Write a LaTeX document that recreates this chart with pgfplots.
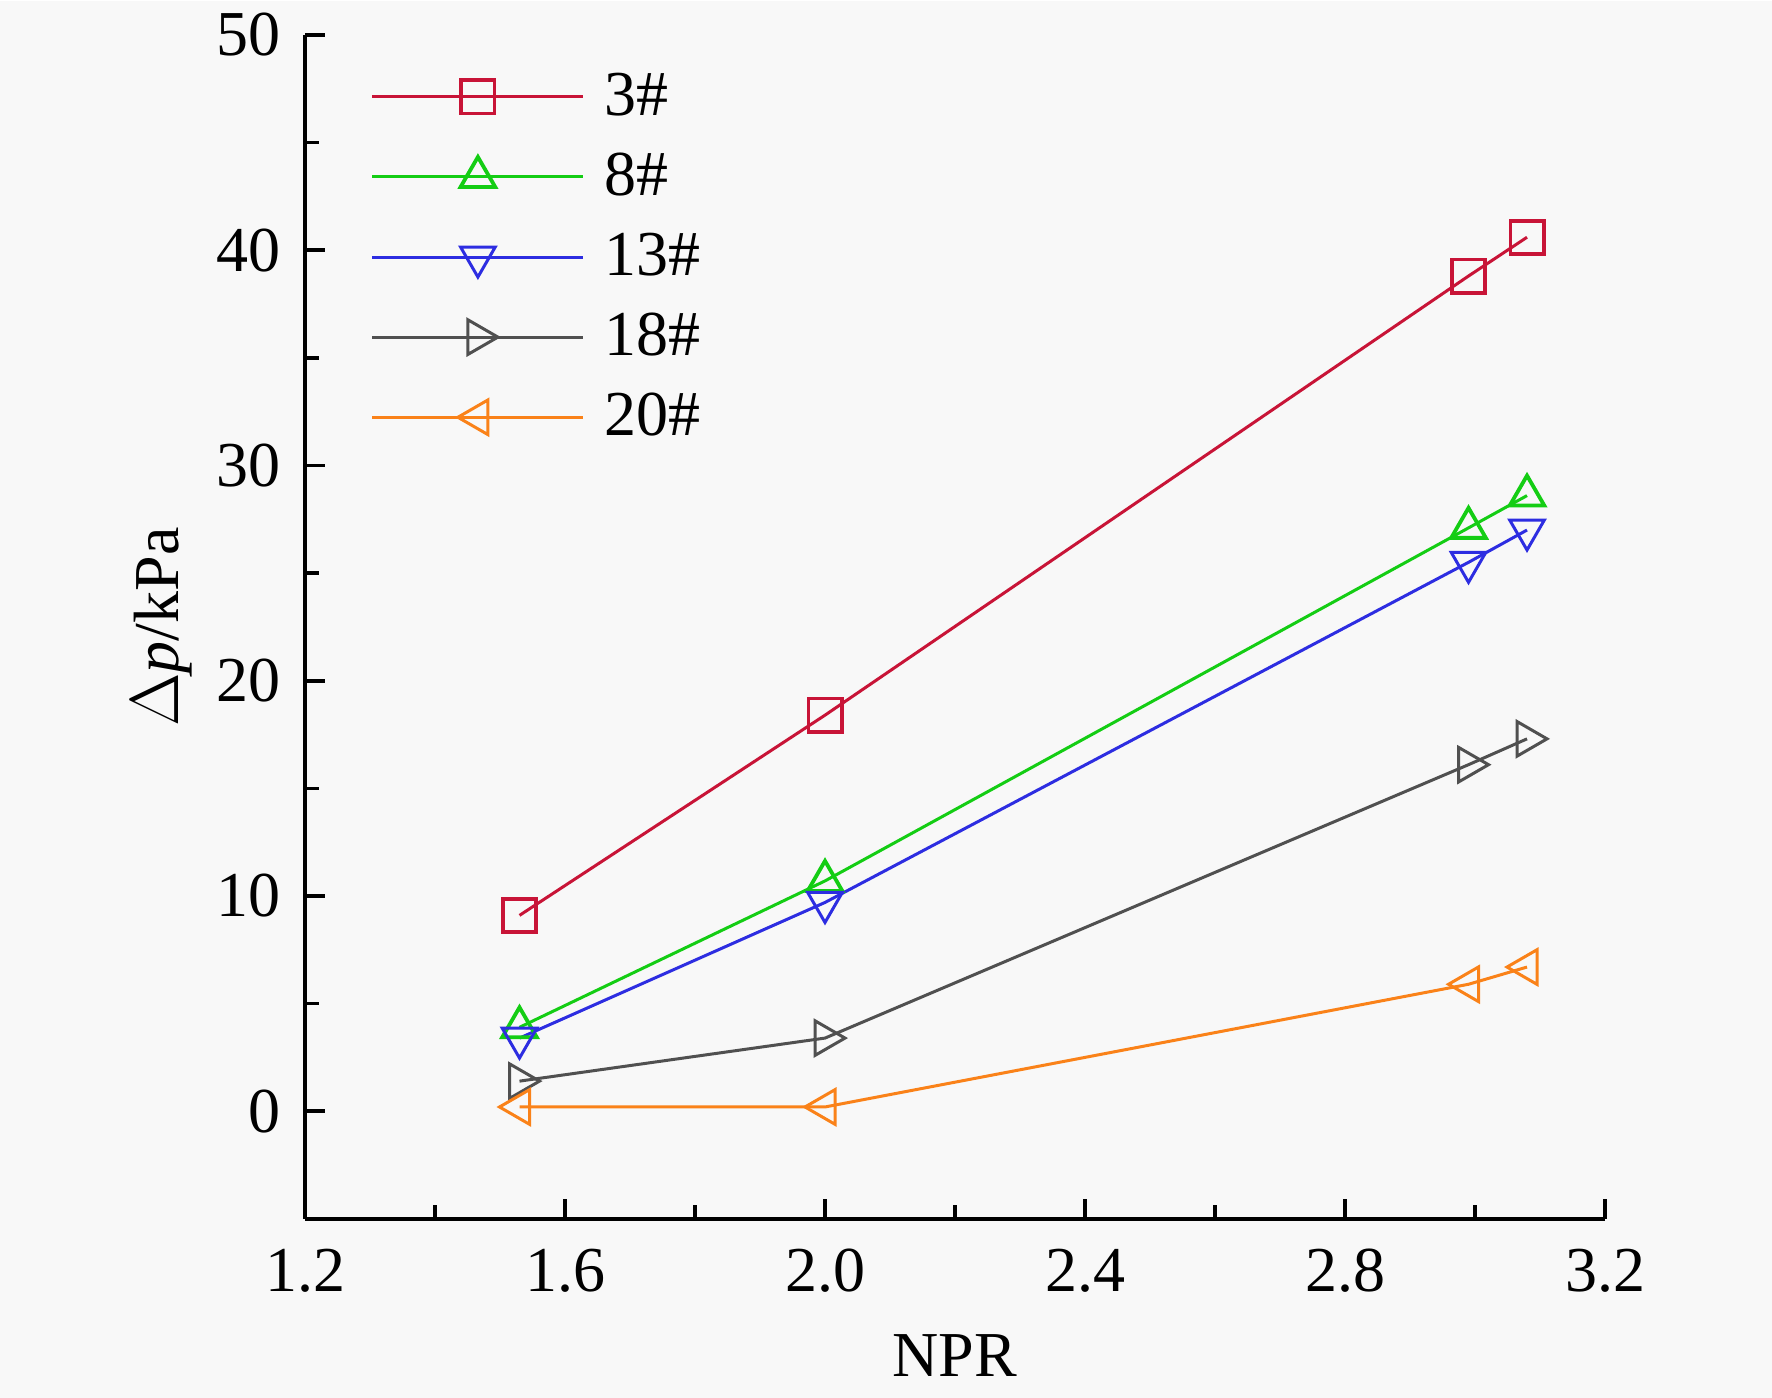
\documentclass[border=0pt]{standalone}
\usepackage{fontspec}
\setmainfont{Liberation Serif}
\usepackage{pgfplots}
\pgfplotsset{compat=1.18}
\definecolor{bgc}{RGB}{248,248,248}
\definecolor{c3}{RGB}{200,20,55}
\definecolor{c8}{RGB}{20,205,20}
\definecolor{c13}{RGB}{45,45,225}
\definecolor{c18}{RGB}{80,80,80}
\definecolor{c20}{RGB}{250,130,25}
\begin{document}
\begin{tikzpicture}
\fill[bgc] (-76.25pt,-44.75pt) rectangle ++(443pt,349.25pt);
\begin{axis}[
  scale only axis,
  width=325pt, height=296pt,
  at={(0,0)}, anchor=south west,
  xmin=1.2, xmax=3.2, ymin=-5, ymax=50,
  axis x line*=bottom, axis y line*=left,
  axis line style={line width=1pt, black},
  tick align=inside,
  major tick length=5pt, minor tick length=3.5pt,
  every tick/.style={black, line width=0.9pt},
  xtick={1.2,1.6,2.0,2.4,2.8,3.2},
  ytick={0,10,20,30,40,50},
  minor x tick num=1, minor y tick num=1,
  font=\fontsize{16}{19}\selectfont,
  /pgf/number format/assume math mode=true,
  xticklabel style={yshift=-4pt, /pgf/number format/.cd, fixed, fixed zerofill, precision=1},
  yticklabel style={xshift=-2.5pt, /pgf/number format/.cd, fixed, precision=0},
  xlabel={NPR},
  ylabel={$\Delta$\textit{p}/kPa},
  every axis x label/.style={at={(axis description cs:0.5,-0.1157)}, anchor=center},
  every axis y label/.style={at={(axis description cs:-0.110,0.5)}, anchor=center, rotate=90},
  legend cell align=left,
  legend style={at={(axis description cs:0.05,0.9755)}, anchor=north west, draw=none, fill=none,
    inner sep=0pt, row sep=3.9pt, font=\fontsize{16}{19}\selectfont,
    /tikz/every odd column/.append style={column sep=2.8pt}},
  legend image code/.code={\draw[#1, mark repeat=2, mark phase=2] plot coordinates {(0pt,0pt) (26.4pt,0pt) (52.75pt,0pt)};},
  every axis plot/.append style={line width=0.75pt, mark options={solid, line width=0.95pt, fill=none}},
]
\addplot[c3, mark=square, mark size=4.15pt] coordinates {(1.53,9.1) (2.0,18.4) (2.99,38.8) (3.08,40.6)};
\addlegendentry{3\#}
\addplot[c8, mark=triangle, mark size=5pt] coordinates {(1.53,3.9) (2.0,10.7) (2.99,27.1) (3.08,28.6)};
\addlegendentry{8\#}
\addplot[c13, mark=triangle, mark size=5pt, mark options={rotate=180}] coordinates {(1.53,3.4) (2.0,9.7) (2.99,25.5) (3.08,27.0)};
\addlegendentry{13\#}
\addplot[c18, mark=triangle, mark size=5pt, mark options={rotate=-90}] coordinates {(1.53,1.4) (2.0,3.4) (2.99,16.1) (3.08,17.3)};
\addlegendentry{18\#}
\addplot[c20, mark=triangle, mark size=5pt, mark options={rotate=90}] coordinates {(1.53,0.2) (2.0,0.2) (2.99,5.9) (3.08,6.7)};
\addlegendentry{20\#}
\end{axis}
\end{tikzpicture}
\end{document}
